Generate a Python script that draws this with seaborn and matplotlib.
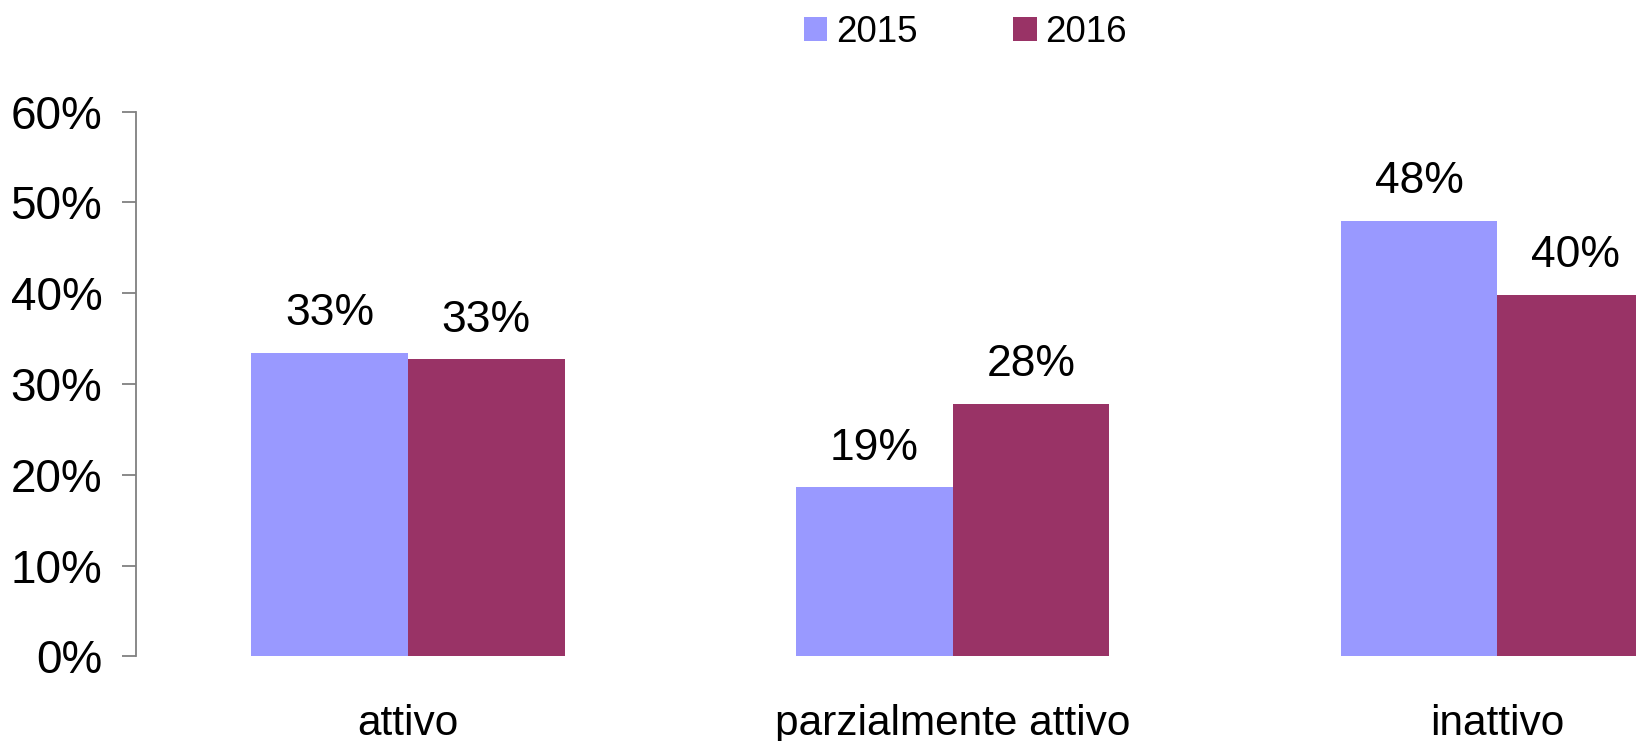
import numpy as np
import pandas as pd
import matplotlib
matplotlib.use("Agg")
import matplotlib.pyplot as plt
import seaborn as sns

# data
categories = ["attivo", "parzialmente attivo", "inattivo"]
years = ["2015", "2016"]
values_2015 = [0.334, 0.186, 0.480]
values_2016 = [0.327, 0.278, 0.398]
y_ticks = [0.0, 0.1, 0.2, 0.3, 0.4, 0.5, 0.6]

colors = {"2015": "#9999FF", "2016": "#993366"}

df = pd.DataFrame({
    "categoria": categories * 2,
    "anno": [years[0]] * 3 + [years[1]] * 3,
    "valore": values_2015 + values_2016,
})

sns.set_theme(style="white")
plt.rcParams["font.family"] = ["Liberation Sans", "DejaVu Sans"]
plt.rcParams["text.color"] = "black"

fig = plt.figure(figsize=(16.36, 7.41), dpi=100)
# axes run past the right edge on purpose: the last bar is cut in the original
ax = fig.add_axes([0.0829, 0.1143, 0.9988, 0.735])

sns.barplot(data=df, x="categoria", y="valore", hue="anno",
            palette=colors, width=0.575, gap=0, saturation=1,
            linewidth=0, ax=ax, legend=True)

for cont in ax.containers:
    ax.bar_label(cont, labels=[f"{v:.0%}" for v in cont.datavalues],
                 padding=13.5, fontsize=32, color="black")

ax.set_xlim(-0.5, 2.5)
ax.set_ylim(0, 0.6)
ax.set_yticks(y_ticks)
ax.set_yticklabels([f"{t:.0%}" for t in y_ticks], fontsize=33)
ax.tick_params(axis="y", which="both", left=True, length=10, width=1.3,
               color="#808080", labelcolor="black", pad=14, direction="out")
ax.tick_params(axis="x", length=0, pad=34, labelsize=30.5, labelcolor="black")
ax.set_xlabel("")
ax.set_ylabel("")

for s in ["top", "right", "bottom"]:
    ax.spines[s].set_visible(False)
ax.spines["left"].set_color("#808080")
ax.spines["left"].set_linewidth(1.3)

handles, labels = ax.get_legend_handles_labels()
ax.get_legend().remove()
fig.legend(handles, labels, loc="center", bbox_to_anchor=(0.59, 0.956),
           ncol=2, frameon=False, fontsize=26.5, handlelength=0.64,
           handleheight=0.64, handletextpad=0.23, columnspacing=2.6,
           borderaxespad=0)

fig.savefig("out.png", dpi=100)
